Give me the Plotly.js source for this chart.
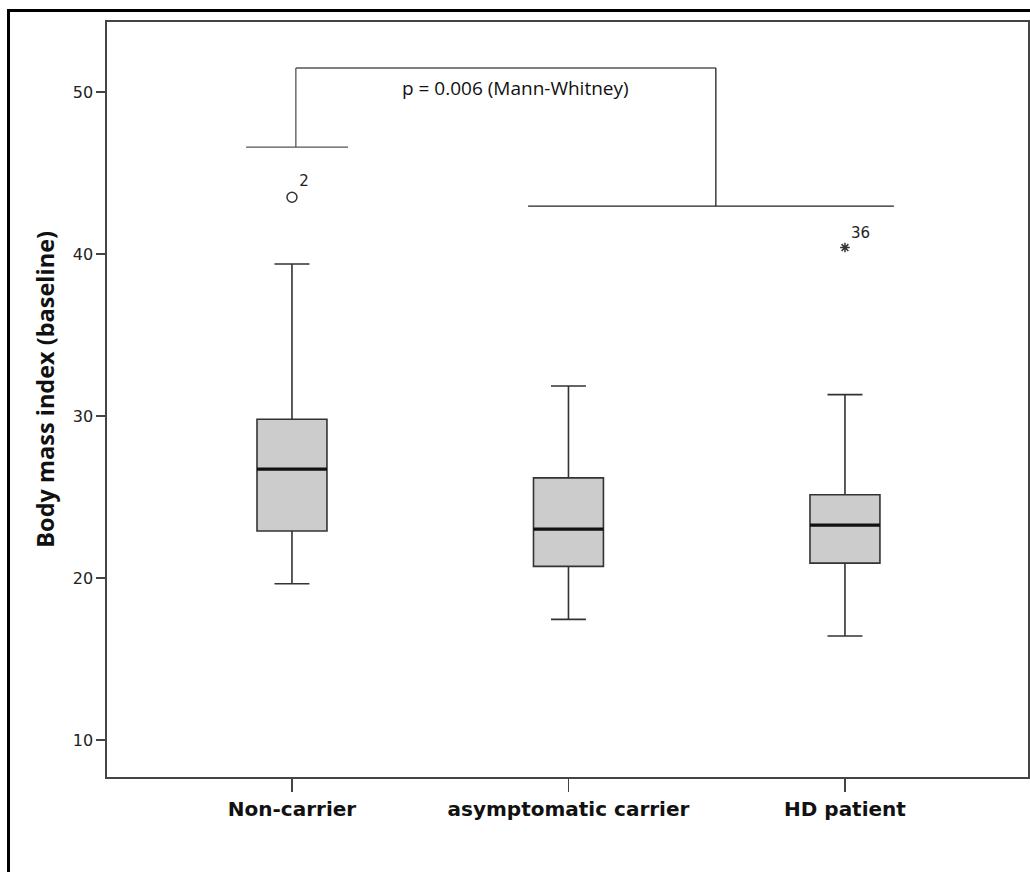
<!DOCTYPE html>
<html>
<head>
<meta charset="utf-8">
<script src="https://cdn.plot.ly/plotly-3.0.1.min.js"></script>
<style>
  html, body { margin: 0; padding: 0; width: 1030px; height: 872px; overflow: hidden; background: #fff; }
  #frame { position: absolute; left: 7px; top: 9px; width: 1100px; height: 1000px; border: 3px solid #000; box-sizing: border-box; }
  #chart { position: absolute; left: 0; top: 0; width: 1030px; height: 872px; }
</style>
</head>
<body>
<div id="frame"></div>
<div id="chart"></div>
<script>
// ---- data ----
const categories = ["Non-carrier", "asymptomatic carrier", "HD patient"];
const lowerWhisker = [19.65, 17.45, 16.42];
const q1Values = [22.90, 20.72, 20.92];
const medianValues = [26.72, 23.02, 23.27];
const q3Values = [29.80, 26.18, 25.14];
const upperWhisker = [39.38, 31.85, 31.32];
const outlierGroup = [0, 2];
const outlierValues = [43.5, 40.4];
const outlierLabels = ["2", "36"];
const outlierSymbols = ["circle-open", "asterisk-open"];
const yTicks = [10, 20, 30, 40, 50];
const pText = "p = 0.006 (Mann-Whitney)";

const boxW = 0.253;
const xIdx = categories.map((c, i) => i);

const traces = [];
traces.push({
  type: "box",
  x: xIdx,
  q1: q1Values,
  median: medianValues,
  q3: q3Values,
  lowerfence: lowerWhisker,
  upperfence: upperWhisker,
  width: boxW,
  whiskerwidth: 0.5,
  boxpoints: false,
  fillcolor: "#cccccc",
  line: { color: "#333333", width: 1.6 },
  showlegend: false,
  hoverinfo: "skip"
});
// thick median lines
xIdx.forEach(i => {
  traces.push({
    type: "scatter", mode: "lines",
    x: [i - boxW / 2, i + boxW / 2],
    y: [medianValues[i], medianValues[i]],
    line: { color: "#111111", width: 3.2 },
    showlegend: false, hoverinfo: "skip"
  });
});
// outliers
outlierGroup.forEach((g, k) => {
  traces.push({
    type: "scatter", mode: "markers+text",
    x: [g], y: [outlierValues[k]],
    marker: { symbol: outlierSymbols[k], size: k === 0 ? 10 : 8, color: "#333333", line: { color: "#333333", width: 1.5 } },
    text: [outlierLabels[k]],
    textposition: "top right",
    textfont: { family: "DejaVu Sans", size: 15, color: "#222" },
    showlegend: false, hoverinfo: "skip"
  });
});

const lc = "#555555";
const shapes = [
  // left bracket
  { type: "line", xref: "x", yref: "y", x0: -0.166, x1: 0.203, y0: 46.6, y1: 46.6, line: { color: lc, width: 1.3 } },
  { type: "line", xref: "x", yref: "y", x0: 0.014, x1: 0.014, y0: 46.6, y1: 51.48, line: { color: lc, width: 1.3 } },
  // top connector
  { type: "line", xref: "x", yref: "y", x0: 0.014, x1: 1.533, y0: 51.48, y1: 51.48, line: { color: lc, width: 1.3 } },
  // right bracket
  { type: "line", xref: "x", yref: "y", x0: 1.533, x1: 1.533, y0: 42.96, y1: 51.48, line: { color: "#222", width: 1.3 } },
  { type: "line", xref: "x", yref: "y", x0: 0.854, x1: 2.177, y0: 42.96, y1: 42.96, line: { color: "#222", width: 1.3 } }
];

const layout = {
  width: 1030, height: 872,
  margin: { l: 107, r: 2, t: 22, b: 95 },
  paper_bgcolor: "rgba(0,0,0,0)",
  plot_bgcolor: "#ffffff",
  showlegend: false,
  xaxis: {
    range: [-0.669, 2.662],
    tickvals: xIdx, ticktext: categories,
    showline: true, mirror: true, linecolor: "#444", linewidth: 1.6,
    ticks: "outside", ticklen: 13, tickcolor: "#444", tickwidth: 1.6,
    showgrid: false, zeroline: false,
    tickfont: { family: "DejaVu Sans", size: 20, color: "#111", weight: "bold" }
  },
  yaxis: {
    range: [7.72, 54.32],
    tickvals: yTicks,
    showline: true, mirror: true, linecolor: "#444", linewidth: 1.6,
    ticks: "outside", ticklen: 9, tickcolor: "#444", tickwidth: 1.6,
    showgrid: false, zeroline: false,
    tickfont: { family: "DejaVu Sans", size: 16, color: "#222" }
  },
  shapes: shapes,
  annotations: [
    { xref: "x", yref: "y", x: 0.81, y: 50.25, text: pText, showarrow: false,
      font: { family: "Open Sans", size: 19, color: "#111" }, xanchor: "center", yanchor: "middle" },
    { xref: "paper", yref: "paper", x: -0.0673, y: 0.513, text: "Body mass index (baseline)", textangle: -90,
      showarrow: false, font: { family: "Open Sans", size: 23.5, color: "#111", weight: "bold" }, xanchor: "center", yanchor: "middle" }
  ]
};

Plotly.newPlot("chart", traces, layout, { staticPlot: true, displayModeBar: false });
</script>
</body>
</html>
